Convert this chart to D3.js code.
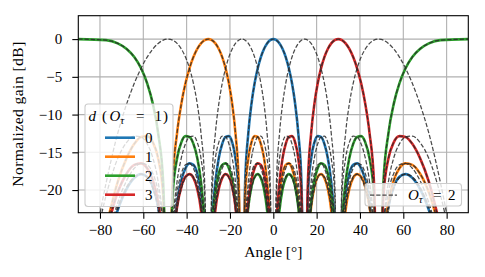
<!DOCTYPE html>
<html>
<head>
<meta charset="utf-8">
<script src="https://cdn.jsdelivr.net/npm/d3@7"></script>
<style>
  body { margin: 0; background: #fff; }
  svg { display: block; }
  text { font-family: "Liberation Serif", "DejaVu Serif", serif; fill: #000; }
</style>
</head>
<body>
<div id="chart"></div>
<script>
// Angle grid of the read points (deg)
const angleDeg = [-90, -77.16, -71.81, -67.67, -64.16, -61.04, -58.21, -55.59, -53.13, -50.81,
  -48.59, -46.47, -44.43, -42.45, -40.54, -38.68, -36.87, -35.1, -33.37, -31.67,
  -30, -28.36, -26.74, -25.15, -23.58, -22.02, -20.49, -18.97, -17.46, -15.96,
  -14.48, -13, -11.54, -10.08, -8.63, -7.18, -5.74, -4.3, -2.87, -1.43,
  0,
  1.43, 2.87, 4.3, 5.74, 7.18, 8.63, 10.08, 11.54, 13, 14.48,
  15.96, 17.46, 18.97, 20.49, 22.02, 23.58, 25.15, 26.74, 28.36, 30,
  31.67, 33.37, 35.1, 36.87, 38.68, 40.54, 42.45, 44.43, 46.47, 48.59,
  50.81, 53.13, 55.59, 58.21, 61.04, 64.16, 67.67, 71.81, 77.16, 90];

// d = 0 (beam at 0 deg)
const gainD0 = [-40, -28.25, -22.65, -19.84, -18.39, -17.89, -18.25, -19.57, -22.24, -27.71,
  -40, -27.4, -21.68, -18.72, -17.11, -16.46, -16.66, -17.8, -20.3, -25.58,
  -40, -24.9, -18.93, -15.74, -13.88, -12.96, -12.86, -13.68, -15.82, -20.7,
  -40, -19.05, -12.48, -8.58, -5.86, -3.87, -2.38, -1.31, -0.57, -0.14,
  0,
  -0.14, -0.57, -1.31, -2.38, -3.87, -5.86, -8.58, -12.48, -19.05, -40,
  -20.7, -15.82, -13.68, -12.86, -12.96, -13.88, -15.74, -18.93, -24.9, -40,
  -25.58, -20.3, -17.8, -16.66, -16.46, -17.11, -18.72, -21.68, -27.4, -40,
  -27.71, -22.24, -19.57, -18.25, -17.89, -18.39, -19.84, -22.65, -28.25, -40];

// d = 1 (beam at -30 deg)
const gainD1 = [-40, -24.9, -18.93, -15.74, -13.88, -12.96, -12.86, -13.68, -15.82, -20.7,
  -40, -19.05, -12.48, -8.58, -5.86, -3.87, -2.38, -1.31, -0.57, -0.14,
  0,
  -0.14, -0.57, -1.31, -2.38, -3.87, -5.86, -8.58, -12.48, -19.05, -40,
  -20.7, -15.82, -13.68, -12.86, -12.96, -13.88, -15.74, -18.93, -24.9, -40,
  -25.58, -20.3, -17.8, -16.66, -16.46, -17.11, -18.72, -21.68, -27.4, -40,
  -27.71, -22.24, -19.57, -18.25, -17.89, -18.39, -19.84, -22.65, -28.25, -40,
  -28.25, -22.65, -19.84, -18.39, -17.89, -18.25, -19.57, -22.24, -27.71, -40,
  -27.4, -21.68, -18.72, -17.11, -16.46, -16.66, -17.8, -20.3, -25.58, -40];

// d = 2 (beam at +-90 deg)
const gainD2 = [0,
  -0.14, -0.57, -1.31, -2.38, -3.87, -5.86, -8.58, -12.48, -19.05, -40,
  -20.7, -15.82, -13.68, -12.86, -12.96, -13.88, -15.74, -18.93, -24.9, -40,
  -25.58, -20.3, -17.8, -16.66, -16.46, -17.11, -18.72, -21.68, -27.4, -40,
  -27.71, -22.24, -19.57, -18.25, -17.89, -18.39, -19.84, -22.65, -28.25, -40,
  -28.25, -22.65, -19.84, -18.39, -17.89, -18.25, -19.57, -22.24, -27.71, -40,
  -27.4, -21.68, -18.72, -17.11, -16.46, -16.66, -17.8, -20.3, -25.58,
  -40, -24.9, -18.93, -15.74, -13.88, -12.96, -12.86, -13.68, -15.82, -20.7,
  -40, -19.05, -12.48, -8.58, -5.86, -3.87, -2.38, -1.31, -0.57, -0.14,
  0];

// d = 3 (beam at +30 deg)
const gainD3 = [-40, -25.58, -20.3, -17.8, -16.66, -16.46, -17.11, -18.72, -21.68, -27.4,
  -40, -27.71, -22.24, -19.57, -18.25, -17.89, -18.39, -19.84, -22.65, -28.25,
  -40, -28.25, -22.65, -19.84, -18.39, -17.89, -18.25, -19.57, -22.24, -27.71,
  -40, -27.4, -21.68, -18.72, -17.11, -16.46, -16.66, -17.8, -20.3, -25.58,
  -40, -24.9, -18.93, -15.74, -13.88, -12.96, -12.86, -13.68, -15.82, -20.7,
  -40, -19.05, -12.48, -8.58, -5.86, -3.87, -2.38, -1.31, -0.57, -0.14,
  0,
  -0.14, -0.57, -1.31, -2.38, -3.87, -5.86, -8.58, -12.48, -19.05, -40,
  -20.7, -15.82, -13.68, -12.86, -12.96, -13.88, -15.74, -18.93, -24.9, -40];

// O_tau = 2 extra beams (at -48.6, -14.5, +14.5, +48.6 deg)
const gainOs2M3 = [-40, -19.05, -12.48, -8.58, -5.86, -3.87, -2.38, -1.31, -0.57, -0.14,
  0,
  -0.14, -0.57, -1.31, -2.38, -3.87, -5.86, -8.58, -12.48, -19.05, -40,
  -20.7, -15.82, -13.68, -12.86, -12.96, -13.88, -15.74, -18.93, -24.9, -40,
  -25.58, -20.3, -17.8, -16.66, -16.46, -17.11, -18.72, -21.68, -27.4, -40,
  -27.71, -22.24, -19.57, -18.25, -17.89, -18.39, -19.84, -22.65, -28.25, -40,
  -28.25, -22.65, -19.84, -18.39, -17.89, -18.25, -19.57, -22.24, -27.71, -40,
  -27.4, -21.68, -18.72, -17.11, -16.46, -16.66, -17.8, -20.3, -25.58, -40,
  -24.9, -18.93, -15.74, -13.88, -12.96, -12.86, -13.68, -15.82, -20.7, -40];

const gainOs2M1 = [-40, -27.4, -21.68, -18.72, -17.11, -16.46, -16.66, -17.8, -20.3, -25.58,
  -40, -24.9, -18.93, -15.74, -13.88, -12.96, -12.86, -13.68, -15.82, -20.7,
  -40, -19.05, -12.48, -8.58, -5.86, -3.87, -2.38, -1.31, -0.57, -0.14,
  0,
  -0.14, -0.57, -1.31, -2.38, -3.87, -5.86, -8.58, -12.48, -19.05, -40,
  -20.7, -15.82, -13.68, -12.86, -12.96, -13.88, -15.74, -18.93, -24.9, -40,
  -25.58, -20.3, -17.8, -16.66, -16.46, -17.11, -18.72, -21.68, -27.4, -40,
  -27.71, -22.24, -19.57, -18.25, -17.89, -18.39, -19.84, -22.65, -28.25, -40,
  -28.25, -22.65, -19.84, -18.39, -17.89, -18.25, -19.57, -22.24, -27.71, -40];

const gainOs2P1 = [-40, -27.71, -22.24, -19.57, -18.25, -17.89, -18.39, -19.84, -22.65, -28.25,
  -40, -28.25, -22.65, -19.84, -18.39, -17.89, -18.25, -19.57, -22.24, -27.71,
  -40, -27.4, -21.68, -18.72, -17.11, -16.46, -16.66, -17.8, -20.3, -25.58,
  -40, -24.9, -18.93, -15.74, -13.88, -12.96, -12.86, -13.68, -15.82, -20.7,
  -40, -19.05, -12.48, -8.58, -5.86, -3.87, -2.38, -1.31, -0.57, -0.14,
  0,
  -0.14, -0.57, -1.31, -2.38, -3.87, -5.86, -8.58, -12.48, -19.05, -40,
  -20.7, -15.82, -13.68, -12.86, -12.96, -13.88, -15.74, -18.93, -24.9, -40,
  -25.58, -20.3, -17.8, -16.66, -16.46, -17.11, -18.72, -21.68, -27.4, -40];

const gainOs2P3 = [-40, -20.7, -15.82, -13.68, -12.86, -12.96, -13.88, -15.74, -18.93, -24.9,
  -40, -25.58, -20.3, -17.8, -16.66, -16.46, -17.11, -18.72, -21.68, -27.4,
  -40, -27.71, -22.24, -19.57, -18.25, -17.89, -18.39, -19.84, -22.65, -28.25,
  -40, -28.25, -22.65, -19.84, -18.39, -17.89, -18.25, -19.57, -22.24, -27.71,
  -40, -27.4, -21.68, -18.72, -17.11, -16.46, -16.66, -17.8, -20.3, -25.58,
  -40, -24.9, -18.93, -15.74, -13.88, -12.96, -12.86, -13.68, -15.82, -20.7,
  -40, -19.05, -12.48, -8.58, -5.86, -3.87, -2.38, -1.31, -0.57, -0.14,
  0,
  -0.14, -0.57, -1.31, -2.38, -3.87, -5.86, -8.58, -12.48, -19.05, -40];

const beamLabels = ["0", "1", "2", "3"];
const xTicks = [-80, -60, -40, -20, 0, 20, 40, 60, 80];
const yTicks = [0, -5, -10, -15, -20];

const colors = ["#1f77b4", "#ff7f0e", "#2ca02c", "#d62728"];
const solidSeries = [gainD0, gainD1, gainD2, gainD3];
const dashedSeries = [gainOs2M3, gainD1, gainOs2M1, gainD0, gainOs2P1, gainD3, gainOs2P3, gainD2];

const W = 485, H = 277;
const pL = 78.3, pR = 468.3, pT = 15.7, pB = 212.7;

const svg = d3.select("#chart").append("svg")
  .attr("width", W)
  .attr("height", H);

const x = d3.scaleLinear().domain([-90, 90]).range([pL, pR]);
const y = d3.scaleLinear().domain([-23, 3.1]).range([pB, pT]);

const fmt = d => d < 0 ? "\u2212" + (-d) : String(d);

svg.append("defs").append("clipPath").attr("id", "plotClip")
  .append("rect")
  .attr("x", pL).attr("y", pT)
  .attr("width", pR - pL).attr("height", pB - pT);

// grid
svg.append("g").selectAll("line")
  .data(xTicks).enter().append("line")
  .attr("x1", d => x(d)).attr("x2", d => x(d))
  .attr("y1", pT).attr("y2", pB)
  .style("stroke", "#b0b0b0").style("stroke-width", 1.1);
svg.append("g").selectAll("line")
  .data(yTicks).enter().append("line")
  .attr("x1", pL).attr("x2", pR)
  .attr("y1", d => y(d)).attr("y2", d => y(d))
  .style("stroke", "#b0b0b0").style("stroke-width", 1.1);

const line = d3.line()
  .x((d, i) => x(angleDeg[i]))
  .y(d => y(d))
  .curve(d3.curveMonotoneX);

const plot = svg.append("g").attr("clip-path", "url(#plotClip)");

// solid beams, O_tau = 1
solidSeries.forEach((vals, i) => {
  plot.append("path")
    .datum(vals)
    .attr("d", line)
    .style("fill", "none")
    .style("stroke", colors[i])
    .style("stroke-width", 2.6);
});

// dashed beams, O_tau = 2
dashedSeries.forEach(vals => {
  plot.append("path")
    .datum(vals)
    .attr("d", line)
    .style("fill", "none")
    .style("stroke", "#2a2a2a")
    .style("stroke-opacity", 0.85)
    .style("stroke-width", 1.25)
    .style("stroke-dasharray", "4.3,1.9");
});

// axes
const xAxis = svg.append("g")
  .attr("transform", `translate(0,${pB})`)
  .call(d3.axisBottom(x).tickValues(xTicks).tickSize(6).tickFormat(fmt));
xAxis.select(".domain").remove();
xAxis.selectAll(".tick line").style("stroke", "#000").style("stroke-width", 1.1);
xAxis.selectAll(".tick text")
  .attr("y", 22.5).attr("dy", 0)
  .style("font-size", "15px").style("font-family", "Liberation Serif, serif").attr("fill", "#000");

const yAxis = svg.append("g")
  .attr("transform", `translate(${pL},0)`)
  .call(d3.axisLeft(y).tickValues(yTicks).tickSize(6).tickPadding(10).tickFormat(fmt));
yAxis.select(".domain").remove();
yAxis.selectAll(".tick line").style("stroke", "#000").style("stroke-width", 1.1);
yAxis.selectAll(".tick text")
  .style("font-size", "15px").style("font-family", "Liberation Serif, serif").attr("fill", "#000");

// spines
svg.append("rect")
  .attr("x", pL).attr("y", pT)
  .attr("width", pR - pL).attr("height", pB - pT)
  .style("fill", "none").style("stroke", "#000").style("stroke-width", 1.1);

// axis labels
svg.append("text")
  .attr("x", (pL + pR) / 2).attr("y", 256.7)
  .attr("text-anchor", "middle")
  .attr("textLength", 58).attr("lengthAdjust", "spacing")
  .style("font-size", "15.5px")
  .text("Angle [°]");

svg.append("text")
  .attr("transform", `translate(23,${(pT + pB) / 2}) rotate(-90)`)
  .attr("text-anchor", "middle")
  .attr("textLength", 145).attr("lengthAdjust", "spacing")
  .style("font-size", "15.5px")
  .text("Normalized gain [dB]");

// legend for d
const leg = svg.append("g");
leg.append("rect")
  .attr("x", 85).attr("y", 104).attr("width", 88).attr("height", 102.5)
  .attr("rx", 3)
  .style("fill", "#fff").style("fill-opacity", 0.8)
  .style("stroke", "#cccccc").style("stroke-width", 1.1);

const title = leg.append("text").attr("y", 121).style("font-size", "15px");
title.append("tspan").attr("x", 88.5).style("font-style", "italic").text("d");
title.append("tspan").attr("x", 102).text("(");
title.append("tspan").attr("x", 109.5).style("font-style", "italic").text("O");
title.append("tspan").attr("dy", 3).style("font-style", "italic").style("font-size", "11px").text("τ");
title.append("tspan").attr("x", 136).attr("dy", -3).text("=");
title.append("tspan").attr("x", 154.5).text("1");
title.append("tspan").attr("x", 163).text(")");

beamLabels.forEach((lab, i) => {
  const yy = 137.7 + i * 19;
  leg.append("line")
    .attr("x1", 105).attr("x2", 135).attr("y1", yy).attr("y2", yy)
    .style("stroke", colors[i]).style("stroke-width", 2.6);
  leg.append("text")
    .attr("x", 145).attr("y", yy + 5)
    .style("font-size", "15px")
    .text(lab);
});

// legend for O_tau = 2
const leg2 = svg.append("g");
leg2.append("rect")
  .attr("x", 365).attr("y", 183.5).attr("width", 96.5).attr("height", 22.5)
  .attr("rx", 3)
  .style("fill", "#fff").style("fill-opacity", 0.8)
  .style("stroke", "#cccccc").style("stroke-width", 1.1);
leg2.append("line")
  .attr("x1", 370).attr("x2", 397).attr("y1", 195).attr("y2", 195)
  .style("stroke", "#2a2a2a").style("stroke-opacity", 0.85)
  .style("stroke-width", 1.25).style("stroke-dasharray", "4.3,1.9");
const t2 = leg2.append("text").attr("y", 199.5).style("font-size", "15px");
t2.append("tspan").attr("x", 408).style("font-style", "italic").text("O");
t2.append("tspan").attr("dy", 3).style("font-style", "italic").style("font-size", "11px").text("τ");
t2.append("tspan").attr("x", 433).attr("dy", -3).text("=");
t2.append("tspan").attr("x", 448).text("2");
</script>
</body>
</html>
